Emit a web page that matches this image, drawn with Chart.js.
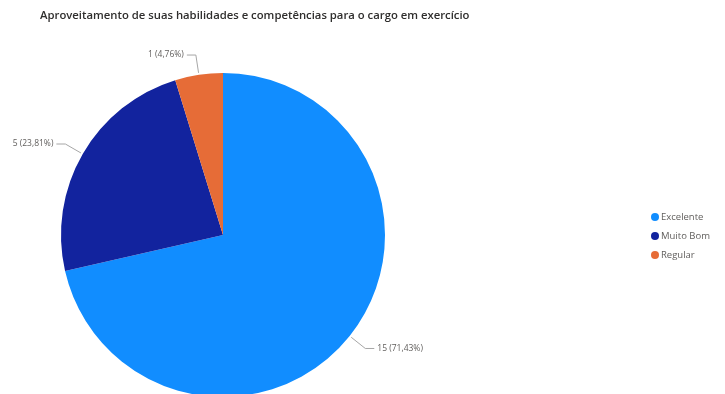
<!DOCTYPE html>
<html><head><meta charset="utf-8">
<script src="https://cdn.jsdelivr.net/npm/chart.js@4.4.0/dist/chart.umd.min.js"></script>
<style>
html,body{margin:0;padding:0;background:#fff;overflow:hidden;width:725px;height:394px;}
#wrap{position:absolute;left:0;top:0;width:725px;height:420px;}
#title{position:absolute;left:40px;top:7px;font-family:"Open Sans",sans-serif;font-size:11.3px;font-weight:600;color:#2f2e2d;white-space:nowrap;}
#legend{position:absolute;left:651px;top:210px;font-family:"Open Sans",sans-serif;font-size:9.5px;color:#605E5C;}
#legend div{height:19px;line-height:14px;white-space:nowrap;}
#legend span{display:inline-block;width:8px;height:8px;border-radius:50%;margin-right:2px;vertical-align:-1px;}
</style></head>
<body>
<div id="wrap"><canvas id="c" width="725" height="420"></canvas></div>
<div id="title">Aproveitamento de suas habilidades e competências para o cargo em exercício</div>
<div id="legend"></div>
<script>
const categories = ["Excelente", "Muito Bom", "Regular"];
const counts = [15, 5, 1];
const percentLabels = ["71,43%", "23,81%", "4,76%"];
const colors = ["#118DFF", "#12239E", "#E66C37"];

const leg = document.getElementById('legend');
categories.forEach((c, i) => {
  const d = document.createElement('div');
  d.innerHTML = '<span style="background:' + colors[i] + '"></span>' + c;
  leg.appendChild(d);
});

const labelPlugin = {
  id: 'leaderLabels',
  afterDatasetsDraw(chart) {
    const ctx = chart.ctx;
    const meta = chart.getDatasetMeta(0);
    ctx.save();
    ctx.font = '8.5px "Open Sans", sans-serif';
    ctx.textBaseline = 'middle';
    meta.data.forEach((arc, i) => {
      const mid = (arc.startAngle + arc.endAngle) / 2;
      const r = arc.outerRadius;
      const cx = arc.x, cy = arc.y;
      const p1x = cx + Math.cos(mid) * (r + 2), p1y = cy + Math.sin(mid) * (r + 2);
      const p2x = cx + Math.cos(mid) * (r + 20), p2y = cy + Math.sin(mid) * (r + 20);
      const right = Math.cos(mid) >= 0;
      const p3x = p2x + (right ? 9 : -9);
      ctx.strokeStyle = '#A6A6A6';
      ctx.lineWidth = 1;
      ctx.beginPath();
      ctx.moveTo(p1x, p1y);
      ctx.lineTo(p2x, p2y);
      ctx.lineTo(p3x, p2y);
      ctx.stroke();
      ctx.fillStyle = '#605E5C';
      ctx.textAlign = right ? 'left' : 'right';
      ctx.fillText(counts[i] + ' (' + percentLabels[i] + ')', p3x + (right ? 3 : -3), p2y);
    });
    ctx.restore();
  }
};

new Chart(document.getElementById('c'), {
  type: 'pie',
  data: {
    labels: categories,
    datasets: [{ data: counts, backgroundColor: colors, borderWidth: 0 }]
  },
  options: {
    responsive: false,
    animation: false,
    layout: { padding: { top: 73, left: 61, right: 340, bottom: 23 } },
    plugins: { legend: { display: false }, tooltip: { enabled: false } }
  },
  plugins: [labelPlugin]
});
</script>
</body></html>
